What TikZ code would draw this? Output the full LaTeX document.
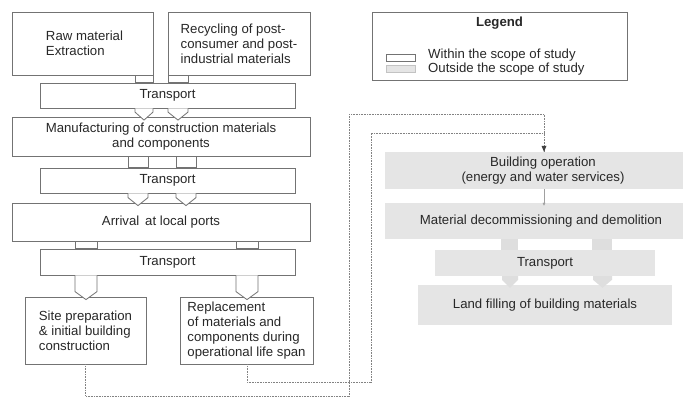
\documentclass[tikz,border=0pt]{standalone}
\usepackage{fontspec}
\setmainfont{Liberation Sans}
\usetikzlibrary{calc,arrows.meta}
\definecolor{bd}{RGB}{115,115,115}
\definecolor{txt}{RGB}{40,40,40}
\definecolor{gfill}{RGB}{229,229,229}
\definecolor{gconn}{RGB}{222,222,222}
\definecolor{dotc}{RGB}{130,130,130}
\newcommand\blockarr[5]{%
  \path[#1] (#2.south -| #4,0) -- ($(#3.north -| #4,0)+(0,-5)$) -- ($(#3.north -| #4,0)!.5!(#3.north -| #5,0)+(0,3)$) -- ($(#3.north -| #5,0)+(0,-5)$) -- (#2.south -| #5,0);%
}
\tikzset{
  txtstyle/.style={font=\fontsize{13.2}{15}\selectfont, text=txt},
  wbox/.style={draw=bd, line width=0.8pt, fill=white, txtstyle, align=center},
  lbox/.style={wbox, align=left},
  gbox/.style={fill=gfill, draw=none, txtstyle, align=center},
  wconn/.style={draw=bd, line width=0.8pt, fill=white},
  gconnst/.style={fill=gconn, draw=none},
  dotline/.style={draw=dotc, line width=0.7pt, dash pattern=on 0.9pt off 0.7pt},
}
\begin{document}
\begin{tikzpicture}[x=1pt, y=-1pt]
\useasboundingbox[fill=white] (0,0) rectangle (689,398);

% left column (within scope)
\node[lbox, minimum width=141pt, minimum height=63pt] (raw) at (82.5,43.5) {\hspace*{4pt}Raw material\\\hspace*{4pt}Extraction};
\node[lbox, minimum width=142pt, minimum height=63pt] (rec) at (239,43.5) {Recycling of post-\\consumer and post-\\industrial materials};
\node[wbox, minimum width=255pt, minimum height=25pt] (t1) at (167.5,95.5) {Transport};
\node[wbox, minimum width=298pt, minimum height=39pt] (man) at (161,137) {Manufacturing of construction materials\\and components};
\node[wbox, minimum width=255pt, minimum height=25pt] (t2) at (167.5,180.5) {Transport};
\node[wbox, minimum width=298pt, minimum height=38pt] (arr) at (161,222) {Arrival\, at local ports};
\node[wbox, minimum width=255pt, minimum height=26pt] (t3) at (167.5,262) {Transport};
\node[lbox, minimum width=121pt, minimum height=67pt] (site) at (85.5,330.5) {Site preparation\\\& initial building\\construction};
\node[lbox, minimum width=133pt, minimum height=67pt] (repl) at (246.5,330.5) {Replacement\\of materials and\\components during\\operational life span};

% connectors left column
\path[wconn] (raw.south -| 135,0) rectangle (t1.north -| 153,0);
\path[wconn] (rec.south -| 168,0) rectangle (t1.north -| 188,0);
\blockarr{wconn}{t1}{man}{135}{153}
\blockarr{wconn}{t1}{man}{168}{188}
\path[wconn] (man.south -| 128,0) rectangle (t2.north -| 148,0);
\path[wconn] (man.south -| 176,0) rectangle (t2.north -| 196,0);
\blockarr{wconn}{t2}{arr}{128}{148}
\blockarr{wconn}{t2}{arr}{176}{196}
\path[wconn] (arr.south -| 75,0) rectangle (t3.north -| 97,0);
\path[wconn] (arr.south -| 236,0) rectangle (t3.north -| 258,0);
\blockarr{wconn}{t3}{site}{75}{97}
\blockarr{wconn}{t3}{repl}{236}{258}

% legend
\node[draw=bd, line width=0.8pt, fill=white, minimum width=255pt, minimum height=68pt] (leg) at (499.5,46) {};
\node[txtstyle, font=\fontsize{13.2}{15}\selectfont\bfseries] (legt) at (499.5,23) {Legend};
\node[draw=bd, line width=0.8pt, fill=white, minimum width=29pt, minimum height=7pt, inner sep=0pt] (sw1) at (400.5,57.5) {};
\node[fill=gfill, draw=gfill!85!black, line width=0.4pt, minimum width=29pt, minimum height=7pt, inner sep=0pt] (sw2) at (400.5,68.5) {};
\node[txtstyle, anchor=west, inner sep=0pt] (lt1) at (428,55) {Within the scope of study};
\node[txtstyle, anchor=west, inner sep=0pt] (lt2) at (428,69) {Outside the scope of study};

% right column (outside scope)
\node[gbox, minimum width=298pt, minimum height=37pt] (bop) at (534,170.5) {\hspace*{18pt}Building operation\\\hspace*{18pt}(energy and water services)};
\node[gbox, minimum width=298pt, minimum height=36pt] (dec) at (534,221) {\hspace*{14pt}Material decommissioning and demolition};
\node[gbox, minimum width=220pt, minimum height=26pt] (t4) at (545,263) {Transport};
\node[gbox, minimum width=254pt, minimum height=40pt] (land) at (545,305) {Land filling of building materials};

\draw[draw=gfill!70!black, line width=0.4pt, -{Latex[length=3pt,width=3pt]}] (bop.south -| 544,0) -- ($(dec.north -| 544,0)+(0,3)$);
\path[gconnst] (dec.south -| 501,0) rectangle (t4.north -| 518,0);
\path[gconnst] (dec.south -| 592,0) rectangle (t4.north -| 612,0);
\blockarr{gconnst}{t4}{land}{502}{518}
\blockarr{gconnst}{t4}{land}{593}{612}

% dotted feedback lines
\coordinate (c1) at (349,396);
\coordinate (c2) at (349,114);
\coordinate (c3) at (544,114);
\coordinate (d1) at (371,382);
\coordinate (d2) at (371,133);
\coordinate (d3) at (544,133);
\draw[dotline] (site.south) -- (site.south |- c1) -- (c1) -- (c2) -- (c3) -- (bop.north -| c3);
\draw[dotline] (repl.south -| 247,0) -- (247,382) -- (d1) -- (d2) -- (d3);
\fill[black!75] (bop.north -| c3) -- ++(-2.5,-6) -- ++(5,0) -- cycle;
\end{tikzpicture}
\end{document}
